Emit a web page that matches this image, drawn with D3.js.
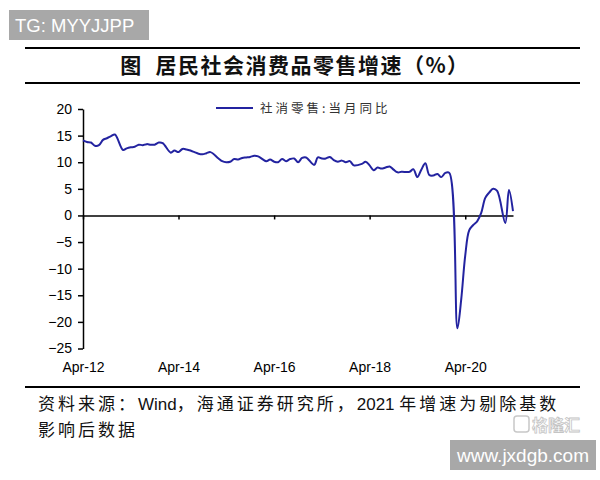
<!DOCTYPE html>
<html><head><meta charset="utf-8">
<script src="https://cdn.jsdelivr.net/npm/d3@7"></script>
<style>
html,body{margin:0;padding:0;background:#fff;}
svg{display:block;}
text{white-space:pre;}
</style>
</head><body>
<svg id="chart" width="600" height="480"></svg>
<script>
// ---- data (monthly YoY %, Jan merged into Feb) ----
const months = [
"2012-04","2012-05","2012-06","2012-07","2012-08","2012-09","2012-10","2012-11","2012-12",
"2013-02","2013-03","2013-04","2013-05","2013-06","2013-07","2013-08","2013-09","2013-10","2013-11","2013-12",
"2014-02","2014-03","2014-04","2014-05","2014-06","2014-07","2014-08","2014-09","2014-10","2014-11","2014-12",
"2015-02","2015-03","2015-04","2015-05","2015-06","2015-07","2015-08","2015-09","2015-10","2015-11","2015-12",
"2016-02","2016-03","2016-04","2016-05","2016-06","2016-07","2016-08","2016-09","2016-10","2016-11","2016-12",
"2017-02","2017-03","2017-04","2017-05","2017-06","2017-07","2017-08","2017-09","2017-10","2017-11","2017-12",
"2018-02","2018-03","2018-04","2018-05","2018-06","2018-07","2018-08","2018-09","2018-10","2018-11","2018-12",
"2019-02","2019-03","2019-04","2019-05","2019-06","2019-07","2019-08","2019-09","2019-10","2019-11","2019-12",
"2020-02","2020-03","2020-04","2020-05","2020-06","2020-07","2020-08","2020-09","2020-10","2020-11","2020-12",
"2021-02","2021-03","2021-04"];
const retailYoY = [
14.1,13.8,13.7,13.1,13.2,14.2,14.5,14.9,15.2,
12.3,12.6,12.8,12.9,13.3,13.2,13.4,13.3,13.3,13.7,13.6,
11.8,12.2,11.9,12.5,12.4,12.2,11.9,11.6,11.5,11.7,11.9,
10.7,10.2,10.0,10.1,10.6,10.5,10.8,10.9,11.0,11.2,11.1,
10.2,10.5,10.1,10.0,10.6,10.2,10.6,10.7,10.0,10.8,10.9,
9.5,10.9,10.7,10.7,11.0,10.4,10.1,10.3,10.0,10.2,9.4,
9.7,10.1,9.4,8.5,9.0,8.8,9.0,9.2,8.6,8.1,8.2,
8.2,8.7,7.2,8.6,9.8,7.6,7.5,7.8,7.2,8.0,8.0,
-21.2,-15.8,-7.5,-2.8,-1.8,-1.1,0.5,3.3,4.3,5.0,4.6,
-1.4,4.8,0.8];
const seriesName = "社消零售:当月同比";
const xTickMonths = ["2012-04","2014-04","2016-04","2018-04","2020-04"];
const xTickLabels = ["Apr-12","Apr-14","Apr-16","Apr-18","Apr-20"];
const yTicks = [20,15,10,5,0,-5,-10,-15,-20,-25];
const title = "图  居民社会消费品零售增速（%）";
const source1 = "资料来源：Wind，海通证券研究所，2021 年增速为剔除基数";
const source2 = "影响后数据";

// ---- drawing ----
const svg = d3.select("#chart");
const parse = d3.timeParse("%Y-%m");
const data = months.map((m,i)=>({d:parse(m), v:retailYoY[i]}));

const x = d3.scaleTime().domain([parse("2012-04"), parse("2021-04")]).range([83, 513]);
const y = d3.scaleLinear().domain([-25, 20]).range([348.5, 109]);

// watermark box top-left
svg.append("rect").attr("x",9).attr("y",10).attr("width",140).attr("height",30).attr("fill","#a8a8a8");
svg.append("text").attr("x",15).attr("y",32).attr("fill","#fff")
  .attr("font-family","Liberation Sans, Arial, sans-serif").attr("font-size",18.5).text("TG: MYYJJPP");

// title rules
svg.append("line").attr("x1",25).attr("x2",580).attr("y1",48).attr("y2",48).attr("stroke","#000").attr("stroke-width",2.2);
svg.append("line").attr("x1",25).attr("x2",580).attr("y1",83).attr("y2",83).attr("stroke","#000").attr("stroke-width",2.2);
svg.append("text").attr("x",295).attr("y",73).attr("text-anchor","middle")
  .attr("font-family","Noto Sans CJK SC, sans-serif").attr("font-weight",700).attr("font-size",21)
  .attr("letter-spacing",1.5).attr("fill","#111").text(title);

// y axis
const yAxis = d3.axisLeft(y).tickValues(yTicks).tickSize(5).tickSizeOuter(0).tickPadding(6)
  .tickFormat(d3.format("d"));
const gy = svg.append("g").attr("transform","translate(83,0)").call(yAxis);
gy.selectAll("path,line").attr("stroke","#000").attr("stroke-width",1.5);
gy.selectAll("text").attr("font-family","Liberation Sans, Arial, sans-serif").attr("font-size",14).attr("fill","#000");

// x axis on zero line (ticks only)
const tickDates = xTickMonths.map(parse);
const xAxis = d3.axisBottom(x).tickValues(tickDates).tickSize(4).tickSizeOuter(0).tickFormat("");
const gx = svg.append("g").attr("transform",`translate(0,${y(0)})`).call(xAxis);
gx.selectAll("path,line").attr("stroke","#000").attr("stroke-width",1.5);

// x labels at bottom
const xLab = d3.axisBottom(x).tickValues(tickDates).tickSize(0).tickPadding(0)
  .tickFormat((d,i)=>xTickLabels[i]);
const gxl = svg.append("g").attr("transform","translate(0,362)").call(xLab);
gxl.select(".domain").remove();
gxl.selectAll("text").attr("font-family","Liberation Sans, Arial, sans-serif").attr("font-size",14).attr("fill","#000");

// line
const line = d3.line().x(d=>x(d.d)).y(d=>y(d.v)).curve(d3.curveCatmullRom.alpha(0.5));
svg.append("path").datum(data).attr("d",line).attr("fill","none")
  .attr("stroke","#2323a0").attr("stroke-width",2).attr("stroke-linejoin","round");

// legend
svg.append("line").attr("x1",216).attr("x2",253).attr("y1",108).attr("y2",108)
  .attr("stroke","#2323a0").attr("stroke-width",2);
svg.append("text").attr("x",260).attr("y",112.5)
  .attr("font-family","Noto Sans CJK SC, sans-serif").attr("font-size",12.5).attr("letter-spacing",3)
  .attr("fill","#333").text(seriesName);

// source (CJK runs letter-spaced, Latin runs normal)
function spacedText(str, xPos, yPos){
  const t = svg.append("text").attr("x",xPos).attr("y",yPos)
    .attr("font-family","Liberation Sans, Noto Sans CJK SC, sans-serif").attr("font-size",17).attr("fill","#111");
  const parts = str.match(/[A-Za-z0-9 ]+|[^A-Za-z0-9 ]+/g);
  parts.forEach(p=>{
    const latin = /^[A-Za-z0-9 ]+$/.test(p);
    t.append("tspan").attr("letter-spacing", latin ? 0 : 3).text(p);
  });
  return t;
}
svg.append("line").attr("x1",25).attr("x2",580).attr("y1",387).attr("y2",387).attr("stroke","#000").attr("stroke-width",2.2);
spacedText(source1, 38, 410);
spacedText(source2, 38, 436);

// 格隆汇 faint logo
svg.append("rect").attr("x",514).attr("y",416).attr("width",15).attr("height",16).attr("rx",3)
  .attr("fill","none").attr("stroke","#c8c8c8").attr("stroke-width",1.5);
svg.append("text").attr("x",532).attr("y",431)
  .attr("font-family","Noto Sans CJK SC, sans-serif").attr("font-size",16).attr("font-weight",700)
  .attr("fill","#fff").attr("stroke","#c4c4c4").attr("stroke-width",0.8).text("格隆汇");

// bottom-right watermark box
svg.append("rect").attr("x",450).attr("y",440).attr("width",146).attr("height",30).attr("fill","#a8a8a8");
svg.append("text").attr("x",523).attr("y",462).attr("text-anchor","middle").attr("fill","#fff")
  .attr("font-family","Liberation Sans, Arial, sans-serif").attr("font-size",19).text("www.jxdgb.com");
</script>
</body></html>
